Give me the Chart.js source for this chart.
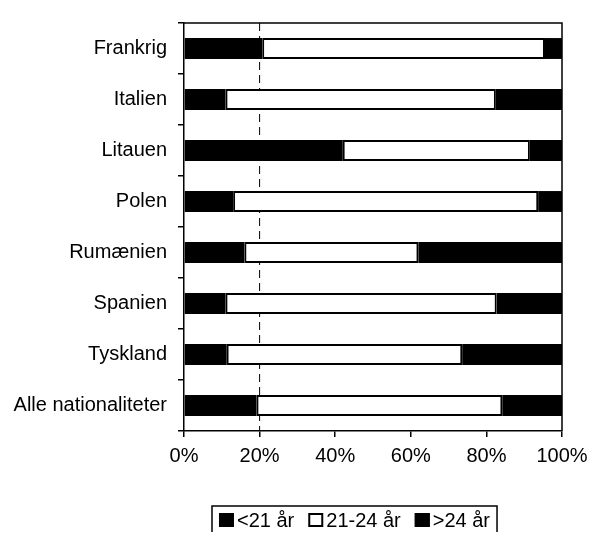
<!DOCTYPE html>
<html>
<head>
<meta charset="utf-8">
<script src="https://cdn.jsdelivr.net/npm/chart.js@4/dist/chart.umd.min.js"></script>
<style>
  html, body { margin: 0; padding: 0; background: #fff; }
  #wrap { width: 590px; height: 533px; }
</style>
</head>
<body>
<div id="wrap"><canvas id="ageChart"></canvas></div>
<script>
// Data (percent of each nationality)
var categories = ["Frankrig", "Italien", "Litauen", "Polen", "Rumænien", "Spanien", "Tyskland", "Alle nationaliteter"];
var under21 = [20.7, 11.0, 42.0, 13.0, 16.0, 11.0, 11.3, 19.2];
var age21to24 = [74.8, 71.5, 49.5, 80.7, 46.0, 71.7, 62.3, 65.0];
var over24 = [4.5, 17.5, 8.5, 6.3, 38.0, 17.3, 26.4, 15.8];
var seriesLabels = ["<21 år", "21-24 år", ">24 år"];
var xTicks = [0, 20, 40, 60, 80, 100];
var refLine = 20;

var fontFamily = "'Liberation Sans', Arial, Helvetica, sans-serif";

// frame on top/right plus dashed reference line
var framePlugin = {
    id: "frame",
    beforeDatasetsDraw: function (chart) {
        var ctx = chart.ctx, a = chart.chartArea;
        var x = chart.scales.x.getPixelForValue(refLine);
        ctx.save();
        ctx.strokeStyle = "#000";
        ctx.lineWidth = 1;
        ctx.setLineDash([8, 5]);
        ctx.beginPath();
        ctx.moveTo(x, a.top);
        ctx.lineTo(x, a.bottom);
        ctx.stroke();
        ctx.restore();
    },
    afterDraw: function (chart) {
        var ctx = chart.ctx, a = chart.chartArea;
        ctx.save();
        ctx.strokeStyle = "#000";
        ctx.lineWidth = 1.5;
        ctx.beginPath();
        ctx.moveTo(a.left, a.top);
        ctx.lineTo(a.right, a.top);
        ctx.lineTo(a.right, a.bottom);
        ctx.stroke();
        ctx.restore();
    }
};

// boxed legend under the plot
var boxLegend = {
    id: "boxLegend",
    afterDraw: function (chart) {
        var ctx = chart.ctx, a = chart.chartArea;
        var sq = 15, gap = 3, itemGap = 14, pad = 7;
        ctx.save();
        ctx.font = "20px " + fontFamily;
        var total = pad * 2;
        chart.data.datasets.forEach(function (ds, i) {
            total += sq + gap + ctx.measureText(ds.label).width;
            if (i > 0) total += itemGap;
        });
        var left = a.left + 28, top = 506, bottom = 532;
        var cy = 520;
        ctx.strokeStyle = "#000";
        ctx.lineWidth = 1.5;
        ctx.beginPath();
        ctx.moveTo(left, bottom);
        ctx.lineTo(left, top);
        ctx.lineTo(left + total, top);
        ctx.lineTo(left + total, bottom);
        ctx.stroke();
        var x = left + pad;
        ctx.textBaseline = "middle";
        chart.data.datasets.forEach(function (ds) {
            ctx.fillStyle = ds.backgroundColor;
            ctx.fillRect(x, cy - 7, sq, 14);
            ctx.lineWidth = 2;
            ctx.strokeRect(x + 1, cy - 6, sq - 2, 12);
            x += sq + gap;
            ctx.fillStyle = "#000";
            ctx.fillText(ds.label, x, cy + 1);
            x += ctx.measureText(ds.label).width + itemGap;
        });
        ctx.restore();
    }
};

var ctx = document.getElementById("ageChart").getContext("2d");
new Chart(ctx, {
    type: "bar",
    data: {
        labels: categories,
        datasets: [
            { label: seriesLabels[0], data: under21, backgroundColor: "#000", borderWidth: 0 },
            { label: seriesLabels[1], data: age21to24, backgroundColor: "#fff", borderWidth: 2 },
            { label: seriesLabels[2], data: over24, backgroundColor: "#000", borderWidth: 0 }
        ]
    },
    options: {
        indexAxis: "y",
        responsive: true,
        maintainAspectRatio: false,
        animation: false,
        datasets: {
            bar: {
                borderColor: "#000",
                borderSkipped: false,
                categoryPercentage: 1,
                barPercentage: 0.41
            }
        },
        layout: { padding: { top: 17, right: 28, left: 0, bottom: 0 } },
        plugins: {
            legend: { display: false },
            tooltip: { enabled: false }
        },
        scales: {
            x: {
                stacked: true,
                min: 0,
                max: 100,
                afterBuildTicks: function (scale) {
                    scale.ticks = xTicks.map(function (v) { return { value: v }; });
                },
                afterFit: function (scale) {
                    scale.height = 102;
                    scale.paddingLeft = 0;
                    scale.paddingRight = 0;
                },
                border: { color: "#000", width: 1.5 },
                grid: { drawOnChartArea: false, drawTicks: true, tickLength: 6, color: "#000", lineWidth: 1.5 },
                ticks: {
                    color: "#000",
                    padding: 7,
                    maxRotation: 0,
                    font: { family: fontFamily, size: 20 },
                    callback: function (v) { return v + "%"; }
                }
            },
            y: {
                stacked: true,
                afterFit: function (scale) { scale.width = 184; },
                border: { color: "#000", width: 1.5 },
                grid: { drawOnChartArea: false, drawTicks: true, tickLength: 6, color: "#000", lineWidth: 1.5 },
                ticks: {
                    color: "#000",
                    padding: 11,
                    font: { family: fontFamily, size: 20 }
                }
            }
        }
    },
    plugins: [framePlugin, boxLegend]
});
</script>
</body>
</html>
